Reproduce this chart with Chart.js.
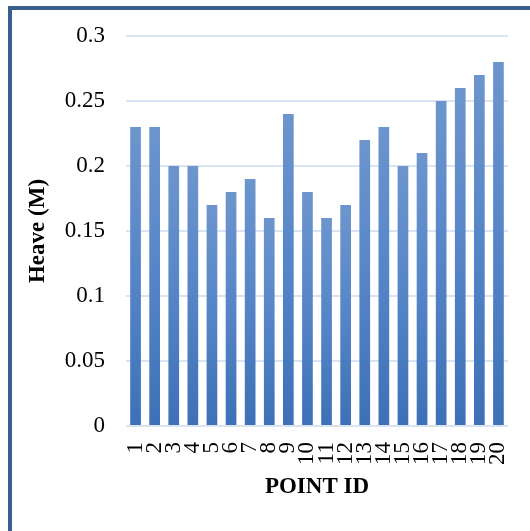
<!DOCTYPE html>
<html>
<head>
<meta charset="utf-8">
<script src="https://cdn.jsdelivr.net/npm/chart.js@4"></script>
<style>
  html, body { margin: 0; padding: 0; background: #fff; overflow: hidden; }
  #wrap { position: relative; width: 530px; height: 531px; }
  #frame { position: absolute; left: 8px; top: 6px; width: 540px; height: 540px; border: 4px solid #3a5f8e; box-sizing: border-box; }
  canvas { position: absolute; left: 0; top: 0; }
</style>
</head>
<body>
<div id="wrap">
  <div id="frame"></div>
  <canvas id="c" width="530" height="531"></canvas>
</div>
<script>
const categories = ["1","2","3","4","5","6","7","8","9","10","11","12","13","14","15","16","17","18","19","20"];
const heave = [0.23,0.23,0.20,0.20,0.17,0.18,0.19,0.16,0.24,0.18,0.16,0.17,0.22,0.23,0.20,0.21,0.25,0.26,0.27,0.28];
const yTicks = [0, 0.05, 0.1, 0.15, 0.2, 0.25, 0.3];
const yTitle = "Heave (M)";
const xTitle = "POINT ID";

const FONT = "'Liberation Serif', 'Times New Roman', serif";

function barGradient(ctx) {
  const chart = ctx.chart;
  const area = chart.chartArea;
  if (!area || ctx.parsed === undefined) return '#5585c7';
  const ys = chart.scales.y;
  const top = ys.getPixelForValue(ctx.parsed.y);
  const bottom = ys.getPixelForValue(0);
  const g = chart.ctx.createLinearGradient(0, top, 0, bottom);
  g.addColorStop(0, '#6d95cd');
  g.addColorStop(0.5, '#5585c7');
  g.addColorStop(1, '#3d70b6');
  return g;
}

new Chart(document.getElementById('c'), {
  type: 'bar',
  data: {
    labels: categories,
    datasets: [{
      data: heave,
      backgroundColor: barGradient,
      borderWidth: 0,
      barPercentage: 0.56,
      categoryPercentage: 1.0
    }]
  },
  options: {
    responsive: false,
    animation: false,
    devicePixelRatio: 1,
    layout: { padding: { top: 36, right: 22, bottom: 0, left: 0 } },
    plugins: { legend: { display: false }, tooltip: { enabled: false } },
    scales: {
      x: {
        grid: { display: false, drawTicks: false },
        border: { display: false },
        ticks: {
          autoSkip: false, minRotation: 90, maxRotation: 90,
          color: '#000', padding: 16,
          font: { family: FONT, size: 23 }
        },
        title: {
          display: true, text: xTitle, color: '#000',
          font: { family: FONT, size: 23, weight: 'bold' },
          padding: { top: 0, bottom: 30 }
        },
        afterFit: (s) => { s.height = 105; s.paddingLeft = 0; s.paddingRight = 0; }
      },
      y: {
        min: 0, max: 0.3,
        afterBuildTicks: (s) => { s.ticks = yTicks.map(v => ({ value: v })); },
        grid: { color: '#d9e4f3', lineWidth: 2, drawTicks: false },
        border: { display: false },
        ticks: {
          color: '#000', padding: 21,
          font: { family: FONT, size: 23 },
          callback: (v) => String(v)
        },
        title: {
          display: true, text: yTitle, color: '#000',
          font: { family: FONT, size: 23, weight: 'bold' },
          padding: { top: 24, bottom: 0 }
        },
        afterFit: (s) => { s.width = 126; s.paddingTop = 0; s.paddingBottom = 0; }
      }
    }
  }
});
</script>
</body>
</html>
